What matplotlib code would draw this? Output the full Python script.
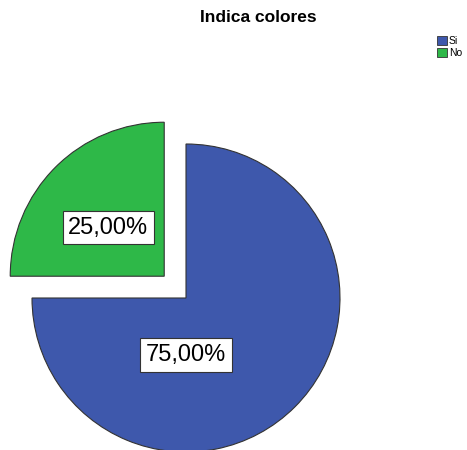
import matplotlib
matplotlib.use("Agg")
import matplotlib.pyplot as plt
import numpy as np

title = "Indica colores"
categories = ["Si", "No"]
values = [75.0, 25.0]
colors = ["#3E58AC", "#2EB848"]
explode = [0.0, 0.2]

plt.rcParams['font.family'] = ['Liberation Sans', 'DejaVu Sans']

W, H = 467, 450
fig = plt.figure(figsize=(W / 100, H / 100), dpi=100)
fig.patch.set_facecolor("white")

# pie center at (186, 298) px from top, radius 154 px
R = 154.0
cx, cy = 186.0, H - 298.0
lim = 1.3
size = 2 * lim * R
ax = fig.add_axes([(cx - size / 2) / W, (cy - size / 2) / H, size / W, size / H])

wedges, texts, autotexts = ax.pie(
    values, colors=colors, explode=explode, startangle=90, counterclock=False,
    autopct=lambda p: f"{p:.2f}%".replace(".", ","), pctdistance=0.37,
    wedgeprops=dict(edgecolor="#333333", linewidth=0.8),
    textprops=dict(fontsize=17, color="black"), radius=1.0, frame=False)
ax.set_xlim(-lim, lim)
ax.set_ylim(-lim, lim)
ax.set_aspect("equal")
ax.axis("off")

# label placement (angle in degrees, distance as fraction of radius)
label_angles = [-90.0, 139.0]
label_dists = [0.37, 0.48]
for w, t, a, d, e in zip(wedges, autotexts, label_angles, label_dists, explode):
    mid = np.deg2rad((w.theta1 + w.theta2) / 2)
    ox, oy = e * np.cos(mid), e * np.sin(mid)
    ang = np.deg2rad(a)
    t.set_position((ox + d * np.cos(ang), oy + d * np.sin(ang)))
    t.set_bbox(dict(facecolor="white", edgecolor="#333333", linewidth=0.8, pad=4))
    t.set_ha("center"); t.set_va("center")

fig.text(258.5 / W, 1 - 17.5 / H, title, ha="center", va="center",
         fontsize=12.5, fontweight="bold")

handles = [plt.Rectangle((0, 0), 1, 1, facecolor=c, edgecolor="#333333", linewidth=0.6)
           for c in colors]
leg = fig.legend(handles, categories, loc="upper left", bbox_to_anchor=(430 / W, 1 - 29 / H),
                 frameon=False, fontsize=7.5, handlelength=0.95, handleheight=0.95,
                 handletextpad=0.15, labelspacing=0.12, borderpad=0.2)

fig.savefig("out.png", dpi=100, facecolor="white")
